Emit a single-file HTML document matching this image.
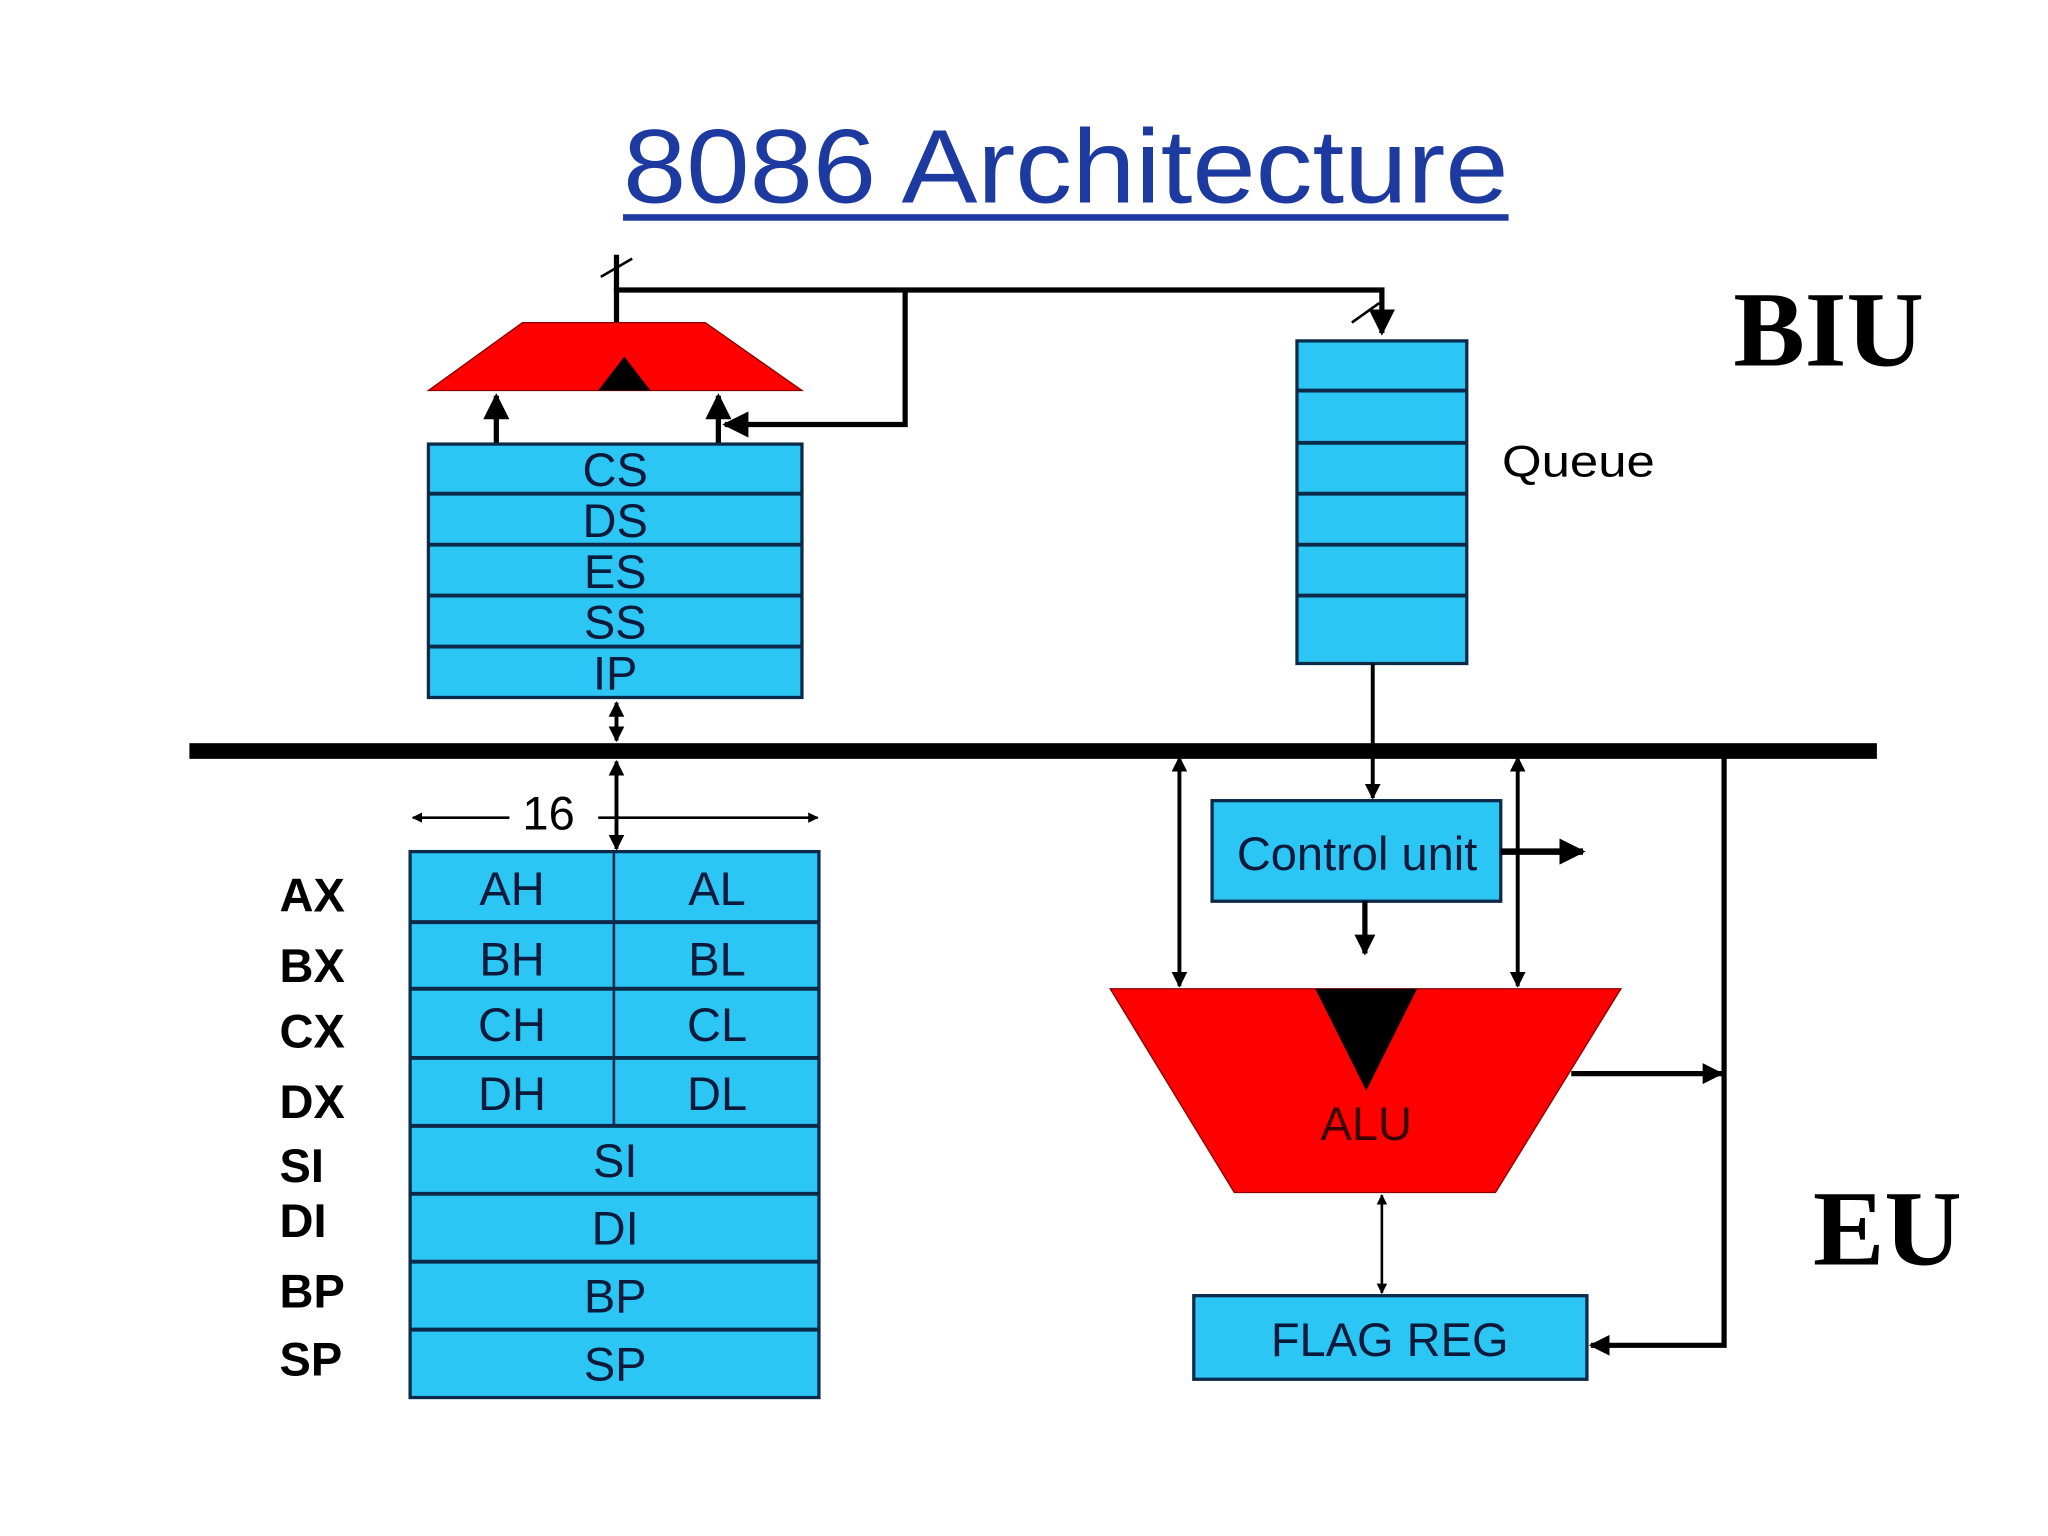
<!DOCTYPE html>
<html><head><style>html,body{margin:0;padding:0;background:#fff}svg{display:block}</style></head>
<body>
<svg width="2048" height="1536" viewBox="0 0 1568 1176" xmlns="http://www.w3.org/2000/svg" font-family="Liberation Sans, sans-serif">
<defs>
<marker id="a" viewBox="0 0 10 10" refX="9" refY="5" markerWidth="5" markerHeight="5" orient="auto-start-reverse"><path d="M0,0 L10,5 L0,10 z" fill="#000"/></marker>
<marker id="b" viewBox="0 0 10 10" refX="9" refY="5" markerWidth="4" markerHeight="4" orient="auto-start-reverse"><path d="M0,0 L10,5 L0,10 z" fill="#000"/></marker>
</defs>
<rect width="1568" height="1176" fill="#fff"/>
<text x="477" y="155" font-size="80" fill="#1c3aa0" textLength="678" lengthAdjust="spacingAndGlyphs">8086 Architecture</text>
<rect x="477" y="164" width="678" height="5" fill="#1c3aa0"/>
<text x="1400" y="280" font-size="82" font-weight="bold" font-family="Liberation Serif, serif" text-anchor="middle">BIU</text>
<text x="1445" y="968" font-size="82" font-weight="bold" font-family="Liberation Serif, serif" text-anchor="middle">EU</text>
<text x="1150" y="365" font-size="34" textLength="117" lengthAdjust="spacingAndGlyphs">Queue</text>

<g stroke="#000" stroke-width="4" fill="none">
<line x1="472" y1="195" x2="472" y2="247"/>
<polyline points="470,222 1058,222 1058,255" marker-end="url(#a)"/>
<polyline points="693,222 693,325 555,325" marker-end="url(#a)"/>
<line x1="380" y1="340" x2="380" y2="303" marker-end="url(#a)"/>
<line x1="550" y1="340" x2="550" y2="303" marker-end="url(#a)"/>
</g>
<g stroke="#000" stroke-width="2"><line x1="460" y1="212" x2="484" y2="198"/><line x1="1035" y1="247" x2="1056" y2="232"/></g>
<polygon points="328,299 614,299 540,247 400,247" fill="#f00" stroke="#800" stroke-width="1"/>
<polygon points="478,273 458,299 498,299" fill="#000"/>

<g stroke="#0b2a4a" stroke-width="2.5" fill="#2cc6f5">
<rect x="328" y="340" width="286" height="194"/>
<rect x="993" y="261" width="130" height="247"/>
<rect x="314" y="652" width="313" height="418"/>
<rect x="928" y="613" width="221" height="77"/>
<rect x="914" y="992" width="301" height="64"/>
</g>
<g stroke="#0b2a4a" stroke-width="3">
<line x1="328" y1="378" x2="614" y2="378"/><line x1="328" y1="417" x2="614" y2="417"/><line x1="328" y1="456" x2="614" y2="456"/><line x1="328" y1="495" x2="614" y2="495"/>
<line x1="993" y1="299" x2="1123" y2="299"/><line x1="993" y1="339" x2="1123" y2="339"/><line x1="993" y1="378" x2="1123" y2="378"/><line x1="993" y1="417" x2="1123" y2="417"/><line x1="993" y1="456" x2="1123" y2="456"/>
<line x1="314" y1="706" x2="627" y2="706"/><line x1="314" y1="757" x2="627" y2="757"/><line x1="314" y1="810" x2="627" y2="810"/><line x1="314" y1="862" x2="627" y2="862"/><line x1="314" y1="914" x2="627" y2="914"/><line x1="314" y1="966" x2="627" y2="966"/><line x1="314" y1="1018" x2="627" y2="1018"/>
<line x1="470" y1="652" x2="470" y2="862" stroke-width="2"/>
</g>
<g font-size="36" fill="#0a1a3a" text-anchor="middle">
<text x="471" y="372">CS</text><text x="471" y="411">DS</text><text x="471" y="450">ES</text><text x="471" y="489">SS</text><text x="471" y="528">IP</text>
<text x="392" y="693">AH</text><text x="549" y="693">AL</text>
<text x="392" y="747">BH</text><text x="549" y="747">BL</text>
<text x="392" y="797">CH</text><text x="549" y="797">CL</text>
<text x="392" y="850">DH</text><text x="549" y="850">DL</text>
<text x="471" y="901">SI</text><text x="471" y="953">DI</text><text x="471" y="1005">BP</text><text x="471" y="1057">SP</text>
<text x="1039" y="666">Control unit</text>
<text x="1064" y="1038">FLAG REG</text>
<text x="420" y="635" fill="#000">16</text>
</g>
<g font-size="36" font-weight="bold" fill="#000">
<text x="214" y="698">AX</text><text x="214" y="752">BX</text><text x="214" y="802">CX</text><text x="214" y="856">DX</text>
<text x="214" y="905">SI</text><text x="214" y="947">DI</text><text x="214" y="1001">BP</text><text x="214" y="1053">SP</text>
</g>

<rect x="145" y="569" width="1292" height="12" fill="#000"/>
<g stroke="#000" stroke-width="3" fill="none">
<line x1="472" y1="538" x2="472" y2="567" marker-start="url(#b)" marker-end="url(#b)"/>
<line x1="472" y1="583" x2="472" y2="650" marker-start="url(#b)" marker-end="url(#b)"/>
<line x1="390" y1="626" x2="316" y2="626" stroke-width="2" marker-end="url(#b)"/>
<line x1="458" y1="626" x2="626" y2="626" stroke-width="2" marker-end="url(#b)"/>
<line x1="1051" y1="508" x2="1051" y2="611" marker-end="url(#b)"/>
<line x1="903" y1="580" x2="903" y2="755" marker-start="url(#b)" marker-end="url(#b)"/>
<line x1="1162" y1="580" x2="1162" y2="755" marker-start="url(#b)" marker-end="url(#b)"/>
<line x1="1149" y1="652" x2="1212" y2="652" stroke-width="5" marker-end="url(#b)"/>
<line x1="1045" y1="690" x2="1045" y2="730" stroke-width="4" marker-end="url(#b)"/>
<line x1="1058" y1="915" x2="1058" y2="990" stroke-width="2" marker-start="url(#b)" marker-end="url(#b)"/>
<polyline points="1320,575 1320,1030 1218,1030" stroke-width="4" marker-end="url(#b)"/>
<line x1="1203" y1="822" x2="1318" y2="822" stroke-width="4" marker-end="url(#b)"/>
</g>
<polygon points="850,757 1241,757 1145,913 945,913" fill="#f00" stroke="#800" stroke-width="1"/>
<polygon points="1007,757 1085,757 1046,835" fill="#000"/>
<text x="1046" y="873" font-size="36" fill="#3a0000" text-anchor="middle">ALU</text>
</svg>
</body></html>
